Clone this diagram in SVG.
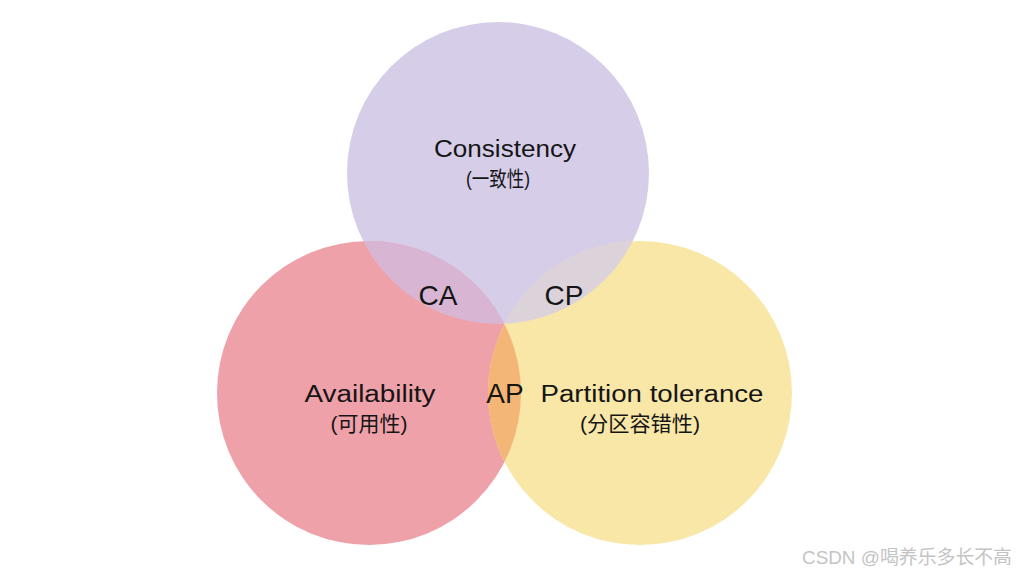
<svg xmlns="http://www.w3.org/2000/svg" width="1016" height="576" viewBox="0 0 1016 576">
<style>
.lbl{font-family:"Liberation Sans","Noto Sans CJK SC",sans-serif;fill:#151515;text-anchor:middle}
.en{font-size:23px}
.cn{font-size:21px}
.pair{font-size:28px}
.wm{font-family:"Liberation Sans","Noto Sans CJK SC",sans-serif;font-size:19px;fill:#c4c4c4}
</style>
<defs>
<clipPath id="cP"><circle cx="498" cy="173" r="151"/></clipPath>
<clipPath id="cR"><circle cx="369" cy="393" r="152"/></clipPath>
<clipPath id="cY"><circle cx="640" cy="393" r="152"/></clipPath>
</defs>
<rect width="1016" height="576" fill="#ffffff"/>
<g id="consistency">
<circle cx="498" cy="173" r="151" fill="#D6CDE9"/>
</g>
<g id="availability">
<circle cx="369" cy="393" r="152" fill="#EFA1AA"/>
</g>
<g id="partition">
<circle cx="640" cy="393" r="152" fill="#F9E7A8"/>
</g>
<g id="overlaps">
<g id="ca" clip-path="url(#cP)"><circle cx="369" cy="393" r="152" fill="#D8B6D3"/></g>
<g id="cp" clip-path="url(#cP)"><circle cx="640" cy="393" r="152" fill="#DCD2DA"/></g>
<g id="ap" clip-path="url(#cR)"><circle cx="640" cy="393" r="152" fill="#F3B677"/></g>
</g>
<g id="labels">
<text class="lbl en" x="505" y="157" textLength="142" lengthAdjust="spacingAndGlyphs">Consistency</text>
<text class="lbl cn" x="498" y="186" textLength="64" lengthAdjust="spacingAndGlyphs">(一致性)</text>
<text class="lbl pair" x="438" y="305">CA</text>
<text class="lbl pair" x="564" y="305">CP</text>
<text class="lbl pair" x="505" y="403">AP</text>
<text class="lbl en" x="370" y="402" textLength="131" lengthAdjust="spacingAndGlyphs">Availability</text>
<text class="lbl cn" x="369" y="431" textLength="77" lengthAdjust="spacingAndGlyphs">(可用性)</text>
<text class="lbl en" x="652" y="402" textLength="223" lengthAdjust="spacingAndGlyphs">Partition tolerance</text>
<text class="lbl cn" x="640" y="431" textLength="120" lengthAdjust="spacingAndGlyphs">(分区容错性)</text>
</g>
<text class="wm" x="802" y="564" textLength="210" lengthAdjust="spacingAndGlyphs">CSDN @喝养乐多长不高</text>
</svg>
